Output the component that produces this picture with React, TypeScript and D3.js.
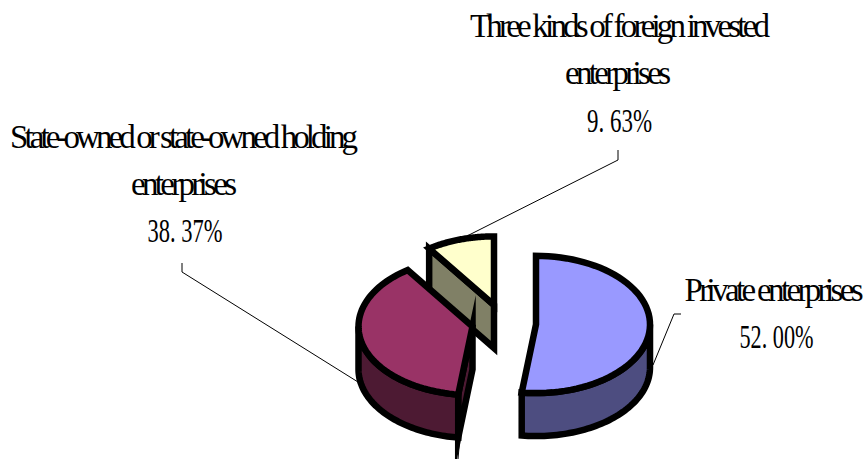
import React from "react";
import * as d3 from "d3";

const categories = ["Private enterprises", "State-owned or state-owned holding enterprises", "Three kinds of foreign invested enterprises"];
const shares = [52.0, 38.37, 9.63];
const topColors = ["#9999ff", "#993366", "#ffffcc"];
const sideColors = ["#4d4d80", "#4d1a33", "#808066"];
// Pivot of each exploded slice on the page
const pivots: [number, number][] = [[536, 324.5], [472.5, 326.5], [494, 305]];
const nameLines = [
  { t: "Private enterprises", x: 774, y: 300.5, w: 179 },
  { t: "State-owned or state-owned holding", x: 184, y: 148, w: 348 },
  { t: "enterprises", x: 184, y: 195, w: 106 },
  { t: "Three kinds of foreign invested", x: 620, y: 36.5, w: 300 },
  { t: "enterprises", x: 618, y: 84, w: 106 },
];
const valueLines = [
  { t: "52. 00%", x: 776.5, y: 348, w: 74 },
  { t: "38. 37%", x: 185, y: 242, w: 75 },
  { t: "9. 63%", x: 619.5, y: 131.5, w: 65 },
];
const leaders: [number, number][][] = [
  [[653, 365], [674, 314], [681, 314]],
  [[182, 263], [182, 272], [358, 382]],
  [[618, 150], [618, 160], [465, 237]],
];

const RX = 114;
const RY = 68.6;
const DEPTH = 43;
const STROKE = 6.5;
const FONT = "'Liberation Serif', serif";

const slices = d3.pie<number>().sort(null)(shares);

function rim(i: number, a: number, dy = 0): [number, number] {
  const [cx, cy] = pivots[i];
  return [cx + RX * Math.sin(a), cy - RY * Math.cos(a) + dy];
}

const lineGen = d3.line();

function arcPoints(i: number, a0: number, a1: number, dy = 0): [number, number][] {
  return d3.range(0, 61).map((k) => rim(i, a0 + ((a1 - a0) * k) / 60, dy));
}

function topPath(i: number): string {
  const s = slices[i];
  return lineGen([pivots[i], ...arcPoints(i, s.startAngle, s.endAngle)])! + "Z";
}

// Outer wall is only seen on the front half of the ellipse
function wallPath(i: number): string | null {
  const s = slices[i];
  const a0 = Math.max(s.startAngle, Math.PI / 2);
  const a1 = Math.min(s.endAngle, (3 * Math.PI) / 2);
  if (a1 <= a0) return null;
  const upper = arcPoints(i, a0, a1);
  const lower = arcPoints(i, a1, a0, DEPTH);
  return lineGen([...upper, ...lower])! + "Z";
}

// Flat cut face running from the pivot to one slice edge
function cutPath(i: number, a: number): string {
  const p = pivots[i];
  const e = rim(i, a);
  return lineGen([p, e, [e[0], e[1] + DEPTH], [p[0], p[1] + DEPTH]])! + "Z";
}

function Slice({ i, cutAngle }: { i: number; cutAngle?: number }) {
  const wall = wallPath(i);
  const common = { stroke: "#000", strokeWidth: STROKE, strokeLinejoin: "miter" as const, strokeMiterlimit: 12 };
  return (
    <g>
      {cutAngle !== undefined && <path d={cutPath(i, cutAngle)} fill={sideColors[i]} {...common} />}
      {wall && <path d={wall} fill={sideColors[i]} {...common} />}
      <path d={topPath(i)} fill={topColors[i]} {...common} />
    </g>
  );
}

export default function App() {
  return (
    <svg width={867} height={459} style={{ position: "absolute", left: 0, top: 0, background: "#fff" }}>
      <title>{categories.join(", ")}</title>
      {leaders.map((pts, i) => (
        <path key={i} d={lineGen(pts)!} fill="none" stroke="#000" strokeWidth={1} />
      ))}
      <Slice i={2} cutAngle={slices[2].startAngle} />
      <Slice i={1} cutAngle={slices[1].startAngle} />
      <path d={lineGen([[460, 436], [458, 459]])!} stroke="#000" strokeWidth={1} fill="none" />
      <Slice i={0} />
      {nameLines.map((l, i) => (
        <text key={i} x={l.x} y={l.y} textAnchor="middle" fontFamily={FONT} fontSize={33} textLength={l.w} lengthAdjust="spacing" fill="#000">
          {l.t}
        </text>
      ))}
      {valueLines.map((l, i) => (
        <text key={i} x={l.x} y={l.y} textAnchor="middle" fontFamily={FONT} fontSize={33} textLength={l.w} lengthAdjust="spacingAndGlyphs" fill="#000">
          {l.t}
        </text>
      ))}
    </svg>
  );
}
